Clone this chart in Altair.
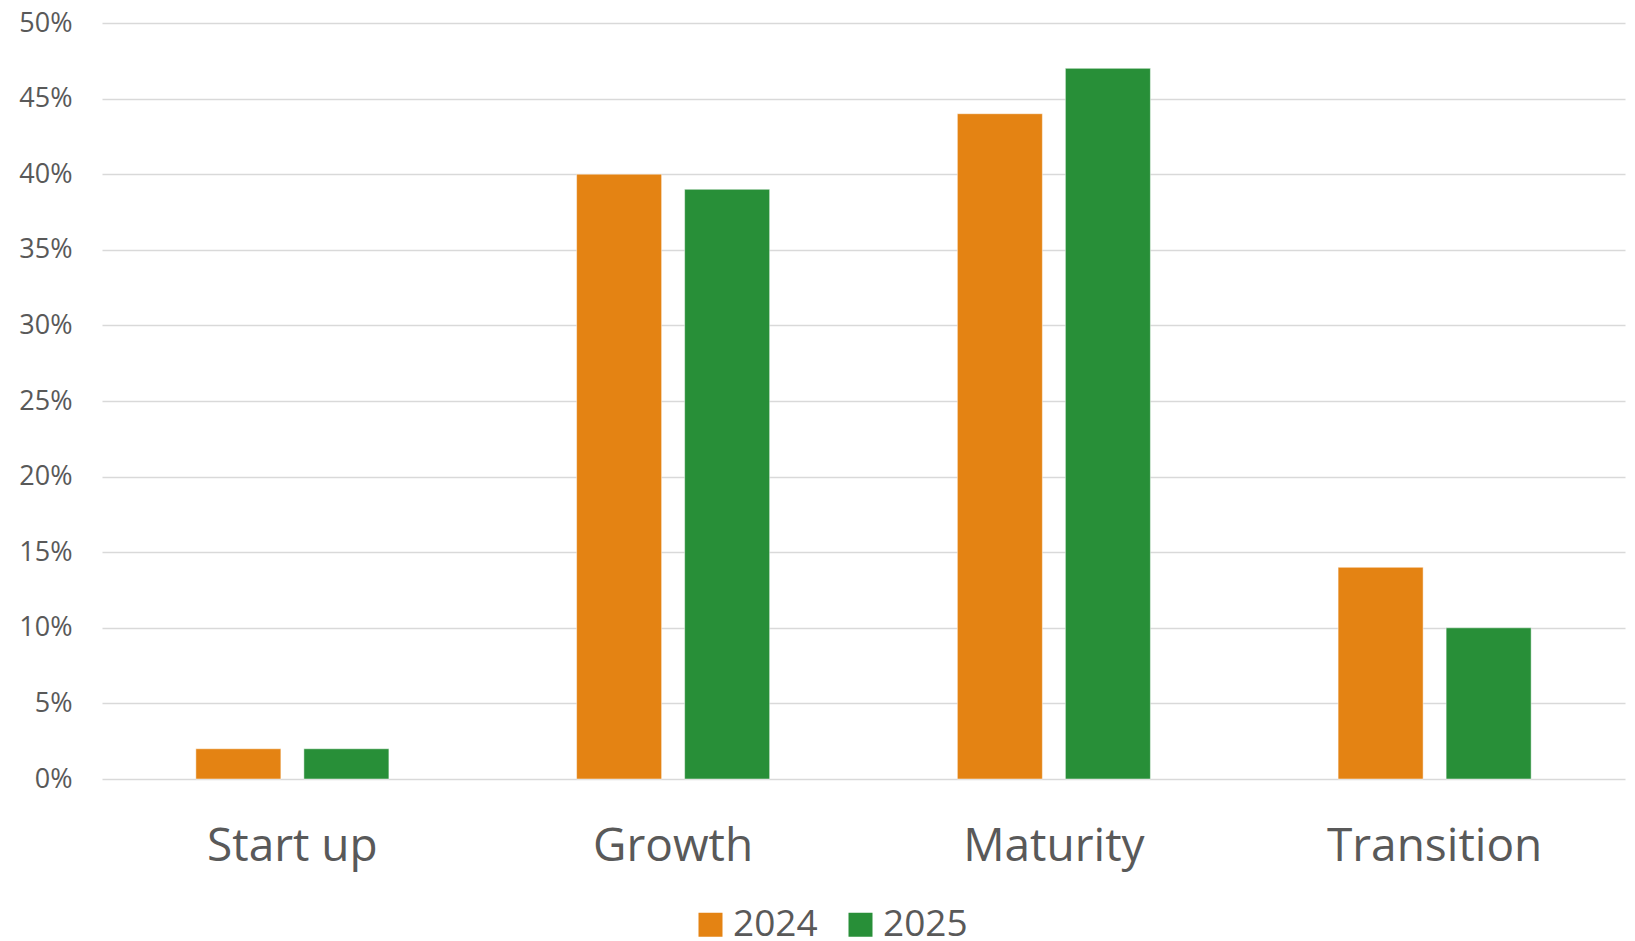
import altair as alt
import pandas as pd

stages = ["Start up", "Growth", "Maturity", "Transition"]
years = ["2024", "2025"]
values_2024 = [0.02, 0.40, 0.44, 0.14]
values_2025 = [0.02, 0.39, 0.47, 0.10]
y_ticks = [0, 0.05, 0.10, 0.15, 0.20, 0.25, 0.30, 0.35, 0.40, 0.45, 0.50]
colors = ["#E48313", "#288F38"]

rows = []
for s, a, b in zip(stages, values_2024, values_2025):
    rows.append({"stage": s, "year": "2024", "value": a})
    rows.append({"stage": s, "year": "2025", "value": b})
df = pd.DataFrame(rows)

font = "Open Sans"

chart = alt.Chart(df).mark_bar(stroke="white", strokeWidth=0.8, strokeOpacity=0.6).encode(
    x=alt.X("stage:N", sort=stages, title=None,
            scale=alt.Scale(paddingInner=0.493, paddingOuter=0.2465),
            axis=alt.Axis(labelAngle=0, labelFontSize=46, labelFont=font, labelColor="#595959",
                          labelPadding=45, labelLimit=0, ticks=False, domain=False, grid=False)),
    xOffset=alt.XOffset("year:N", sort=years,
                        scale=alt.Scale(paddingInner=0.213, paddingOuter=0)),
    y=alt.Y("value:Q", title=None,
            scale=alt.Scale(domain=[0, 0.5], nice=False),
            axis=alt.Axis(values=y_ticks, format=".0%", labelFontSize=27, labelFont=font,
                          labelColor="#595959", labelPadding=30, ticks=False, domain=False,
                          gridColor="#D9D9D9", gridWidth=1.5)),
    color=alt.Color("year:N", sort=years,
                    scale=alt.Scale(domain=years, range=colors),
                    legend=alt.Legend(orient="none", legendX=590, legendY=883,
                                      direction="horizontal", title=None,
                                      symbolType="square", symbolSize=576, symbolStrokeWidth=0,
                                      labelFontSize=37, labelFont=font, labelColor="#595959",
                                      labelOffset=4, columnPadding=24)),
).properties(
    width=1523, height=756,
    padding={"left": 10, "top": 1, "right": 2, "bottom": 0},
    background="white",
).configure_view(stroke=None, strokeWidth=0)

chart.save("out.html", embed_options={"renderer": "svg", "actions": False})
